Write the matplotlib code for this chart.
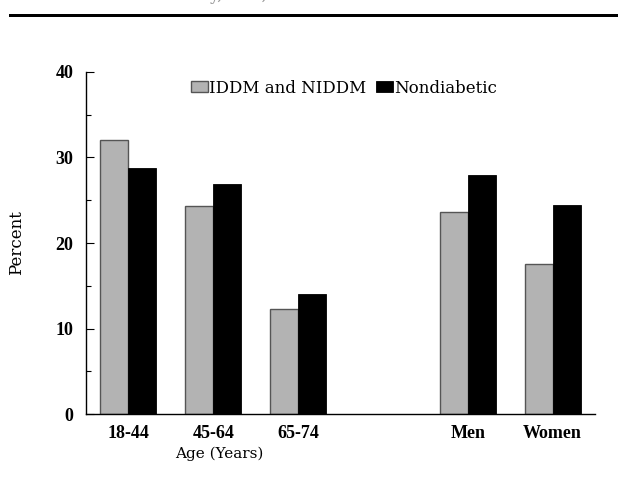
import matplotlib
matplotlib.use("Agg")
import matplotlib.pyplot as plt
from matplotlib.patches import Rectangle
import numpy as np

categories = ["18-44", "45-64", "65-74", "Men", "Women"]
positions = [0, 1, 2, 4, 5]
diabetic = [32.1, 24.3, 12.3, 23.6, 17.6]
nondiabetic = [28.8, 26.9, 14.0, 27.9, 24.4]
series_names = ["IDDM and NIDDM", "Nondiabetic"]
yticks = [0, 10, 20, 30, 40]

plt.rcParams['font.family'] = ['DejaVu Serif']
TICKFONT = ['Liberation Serif', 'DejaVu Serif']

fig = plt.figure(figsize=(6.18, 4.98), dpi=100)
ax = fig.add_axes([86/618, 1-414/498, (595-86)/618, (414-72)/498])

w = 0.33
x = np.array(positions, dtype=float)
ax.bar(x - w/2, diabetic, width=w, color="#b3b3b3", edgecolor="#555555",
       linewidth=1.0, label=series_names[0], zorder=2)
ax.bar(x + w/2, nondiabetic, width=w, color="black", edgecolor="black",
       linewidth=0.6, label=series_names[1], zorder=2)

ax.set_xlim(-0.5, 5.5)
ax.set_ylim(0, 40)
ax.set_yticks(yticks)
ax.set_yticks([5, 15, 25, 35], minor=True)
ax.set_xticks(positions)
ax.set_xticklabels(categories)
ax.tick_params(axis='y', which='major', direction='in', length=5.5, width=0.8,
               labelsize=13, pad=9)
ax.tick_params(axis='y', which='minor', direction='in', length=3.6, width=0.8)
ax.tick_params(axis='x', length=0, labelsize=13, pad=8)
for lbl in ax.get_yticklabels() + ax.get_xticklabels():
    lbl.set_fontweight('bold')
    lbl.set_family(TICKFONT)

for s in ['top', 'right']:
    ax.spines[s].set_visible(False)
for s in ['left', 'bottom']:
    ax.spines[s].set_linewidth(1.0)

ax.set_ylabel("Percent", fontsize=12)
ax.yaxis.set_label_coords(-(86-25)/(595-86), 0.5)

ax.text(1.07, -0.115, "Age (Years)", transform=ax.get_xaxis_transform(),
        ha='center', va='center', fontsize=11)

leg = ax.legend(loc='center', bbox_to_anchor=(0.507, 0.953), ncol=2,
                frameon=False, fontsize=12, handlelength=1.02, handleheight=0.6,
                handletextpad=0.08, columnspacing=0.6, borderpad=0)

# top rule of the page
fig.add_artist(Rectangle((9/618, 1-16.7/498), 1, 2.7/498, transform=fig.transFigure,
                         facecolor='black', edgecolor='none'))
# running header, mostly cut off at the top edge as in the reference
fig.text(40/618, 1-0.3/498, "Diabetes and Obesity, U.S., 1989", color="#9a9a9a",
         fontsize=12, va='baseline', ha='left')

fig.savefig("out.png", dpi=100)
